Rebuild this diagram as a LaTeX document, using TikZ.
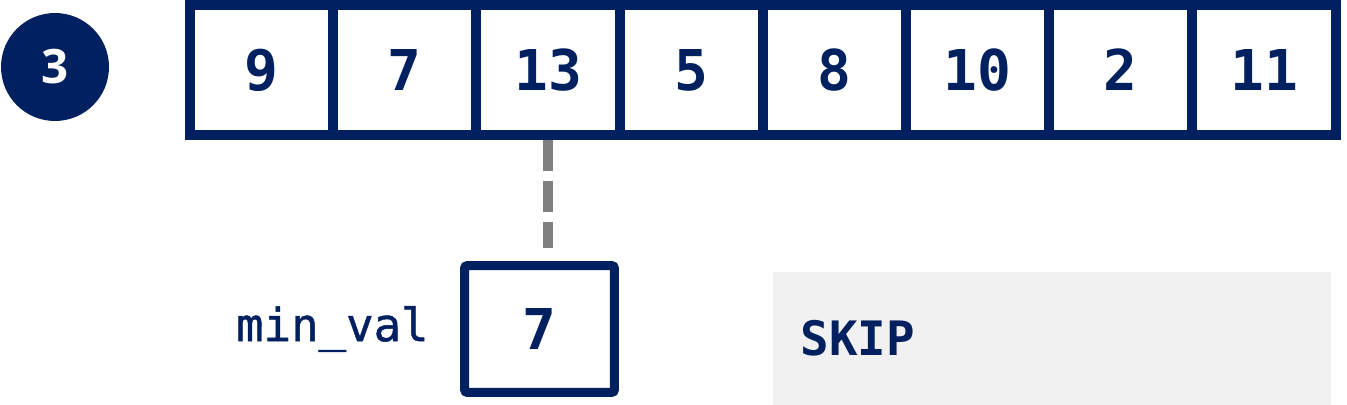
\documentclass[tikz,border=0pt]{standalone}
\usepackage{fontspec}
\usepackage{xcolor}
\usepackage{tikz}
\usetikzlibrary{positioning}
\newfontfamily\codefont{DejaVu Sans Mono}
\newfontfamily\codefontmed{DejaVu Sans Mono}[FakeBold=1]
\newfontfamily\badgefont{Open Sans}
\definecolor{navyblue}{HTML}{00205F}
\definecolor{skipgray}{HTML}{F1F1F1}

\begin{document}
\begin{tikzpicture}[x=0.02cm,y=-0.02cm,
  cell/.style={draw=navyblue,line width=0.2cm,minimum width=2.864cm,minimum height=2.6cm,inner sep=0pt,
    text=navyblue,font=\codefont\bfseries\fontsize{32}{38}\selectfont},
  minbox/.style={draw=navyblue,line width=0.18cm,rounded corners=0.06cm,minimum width=3cm,minimum height=2.54cm,
    inner sep=0pt,text=navyblue,font=\codefont\bfseries\fontsize{32}{38}\selectfont},
  varname/.style={text=navyblue,inner sep=0pt,font=\codefontmed\fontsize{26}{31}\selectfont},
  link/.style={draw=gray,line width=0.2cm,dash pattern=on 0.62cm off 0.2cm}]
\useasboundingbox (0,0) rectangle (1347,405);

% step number
\node[circle,fill=navyblue,minimum size=2.16cm,inner sep=0pt,text=white,
  font=\badgefont\bfseries\fontsize{27}{32}\selectfont] (stepnum) at (55,67) {3};

% the list
\foreach \v [count=\i] in {9,7,13,5,8,10,2,11}
  \node[cell] (c\i) at ({118.4+143.2*\i},70) {\v};

% current minimum
\node[minbox] (minval) at (539.5,329) {7};
\node[varname,left=0.62cm of minval] (minlabel) {min\_val};
\draw[link,shorten >=0.26cm] (c3.south) -- (c3.south |- minval.north);

% result
\node[fill=skipgray,minimum height=2.66cm,inner xsep=0.56cm,text width=10.06cm,align=left,
  text=navyblue,font=\codefont\bfseries\fontsize{27}{32}\selectfont] (skip) at (1052,338.5) {SKIP};
\end{tikzpicture}
\end{document}
